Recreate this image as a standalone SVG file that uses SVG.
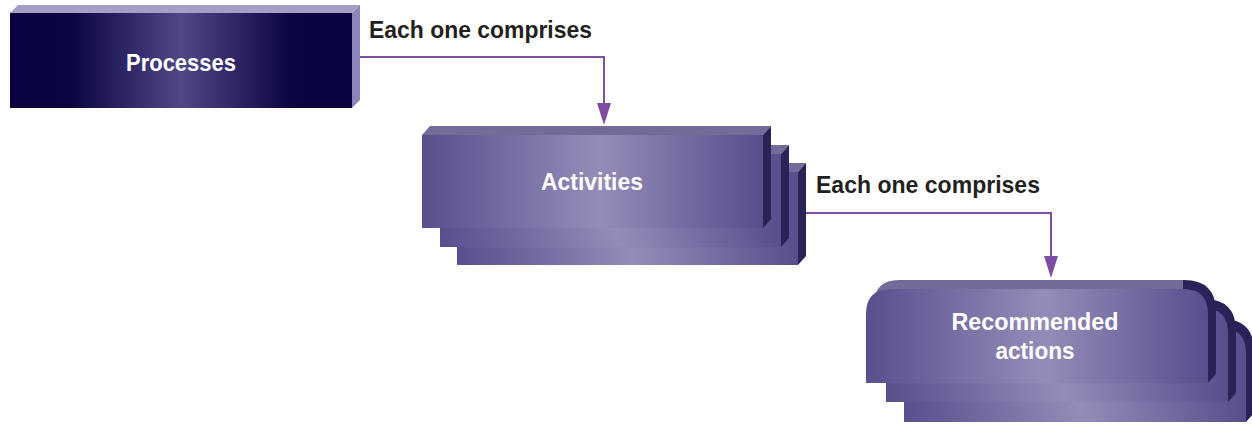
<svg xmlns="http://www.w3.org/2000/svg" width="1252" height="424" viewBox="0 0 1252 424">
<style>
.lbl{font-family:"Liberation Sans",Arial,sans-serif;font-weight:bold;font-size:24px;fill:#231f20}
.nt{font-family:"Liberation Sans",Arial,sans-serif;font-weight:bold;font-size:24px;fill:#ffffff;text-anchor:middle}
.top{fill:#716c98}
.side{fill:#2b2358}
.conn{fill:none;stroke:#7e4ea3;stroke-width:2}
</style>
<defs>
<linearGradient id="gP" x1="0" y1="0" x2="1" y2="0">
<stop offset="0" stop-color="#0a0342"/>
<stop offset="0.18" stop-color="#0c0544"/>
<stop offset="0.5" stop-color="#504787"/>
<stop offset="0.82" stop-color="#0c0544"/>
<stop offset="1" stop-color="#0a0342"/>
</linearGradient>
<linearGradient id="gA" x1="0" y1="0" x2="1" y2="0">
<stop offset="0" stop-color="#594f8e"/>
<stop offset="0.52" stop-color="#948cb8"/>
<stop offset="1" stop-color="#594e8d"/>
</linearGradient>
<linearGradient id="gRB" gradientUnits="objectBoundingBox" x1="0" y1="0" x2="1" y2="0">
<stop offset="0" stop-color="#716c98"/>
<stop offset="0.905" stop-color="#716c98"/>
<stop offset="0.905" stop-color="#2b2358"/>
<stop offset="1" stop-color="#2b2358"/>
</linearGradient>
<g id="rbox">
<path d="M8,25 Q8,0 33,0 L318,0 Q350,0 350,32 L350,94 L342,103 L0,103 Z" fill="url(#gRB)"/>
<path d="M0,34 Q0,9 25,9 L317,9 Q342,9 342,34 L342,103 L0,103 Z" fill="url(#gA)"/>
</g>
</defs>

<g id="connectors">
<path class="conn" d="M360,57 H604 V104"/>
<path d="M597,103 L611,103 L604,125 Z" fill="#7e4ea3"/>
<path class="conn" d="M806,213 H1051 V257"/>
<path d="M1044,256 L1058,256 L1051,278 Z" fill="#7e4ea3"/>
<text class="lbl" x="369" y="38" textLength="223" lengthAdjust="spacingAndGlyphs">Each one comprises</text>
<text class="lbl" x="816" y="193" textLength="224" lengthAdjust="spacingAndGlyphs">Each one comprises</text>
</g>

<g id="processes">
<polygon points="10,13 18,5 360,5 352,13" fill="#a39fc6"/>
<polygon points="352,13 360,5 360,100 352,108" fill="#8b86b8"/>
<rect x="10" y="13" width="342" height="95" fill="url(#gP)"/>
<text class="nt" x="181" y="71" textLength="110" lengthAdjust="spacingAndGlyphs">Processes</text>
</g>

<g id="activities">
<g transform="translate(35,37)">
<polygon class="top" points="422,135 430,126 771,126 763,135"/>
<polygon class="side" points="763,135 771,126 771,219 763,228"/>
<rect x="422" y="135" width="341" height="93" fill="url(#gA)"/>
</g>
<g transform="translate(18,19)">
<polygon class="top" points="422,135 430,126 771,126 763,135"/>
<polygon class="side" points="763,135 771,126 771,219 763,228"/>
<rect x="422" y="135" width="341" height="93" fill="url(#gA)"/>
</g>
<polygon class="top" points="422,135 430,126 771,126 763,135"/>
<polygon class="side" points="763,135 771,126 771,219 763,228"/>
<rect x="422" y="135" width="341" height="93" fill="url(#gA)"/>
<text class="nt" x="592" y="190" textLength="102" lengthAdjust="spacingAndGlyphs">Activities</text>
</g>

<g id="recommended-actions">
<use href="#rbox" transform="translate(904,319)"/>
<use href="#rbox" transform="translate(886,299)"/>
<use href="#rbox" transform="translate(866,280)"/>
<text class="nt" x="1035" y="330" textLength="167" lengthAdjust="spacingAndGlyphs">Recommended</text>
<text class="nt" x="1035" y="359" textLength="79" lengthAdjust="spacingAndGlyphs">actions</text>
</g>
</svg>
